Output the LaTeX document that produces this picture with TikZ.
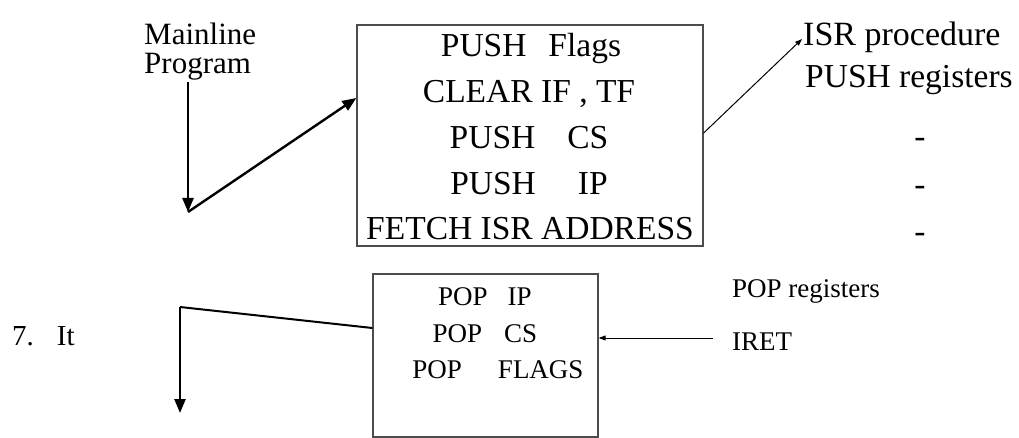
\documentclass[tikz,border=0pt]{standalone}
\usepackage{fontspec}
\setmainfont{Liberation Serif}
\usetikzlibrary{arrows.meta}
\begin{document}
\begin{tikzpicture}[x=1pt,y=-1pt,
  big/.style={font=\fontsize{33.5}{40}\selectfont, inner sep=0pt, anchor=base},
  small/.style={font=\fontsize{27}{32}\selectfont, inner sep=0pt, anchor=base},
  label/.style={font=\fontsize{31}{36}\selectfont, inner sep=0pt, anchor=base west},
  box/.style={draw=black!70, line width=1.3pt, inner sep=0pt},
  flow/.style={line width=2.4pt, -{Triangle[length=14pt,width=11pt]}},
  flowplain/.style={line width=2pt},
  thin/.style={line width=1pt, -{Triangle[length=7pt,width=5pt]}}]
\useasboundingbox (0,0) rectangle (1019,438);

% interrupt entry sequence
\node[box, minimum width=346pt, minimum height=221pt] (entry) at (530,135.5) {};
\node[big] (l1) at (531,57) {PUSH\hspace{22pt}Flags};
\node[big] (l2) at (529,103) {CLEAR IF , TF};
\node[big] (l3) at (529,149) {PUSH\hspace{32pt}CS};
\node[big] (l4) at (529,195) {PUSH\hspace{42pt}IP};
\node[big] (l5) at (530,240) {FETCH ISR ADDRESS};

% mainline program
\node[label] (main1) at (144,45) {Mainline};
\node[label] (main2) at (144,74) {Program};
\coordinate (mtop) at (188,82);
\coordinate (turn) at (188,212);
\draw[flow] (mtop) -- (turn);
\draw[flow] (turn) -- (entry.west |- 0,98);

% ISR procedure column
\node[font=\fontsize{34}{40}\selectfont, inner sep=0pt, anchor=base west] (isr) at (803,46) {ISR procedure};
\node[big, anchor=base west] (pushr) at (805,88) {PUSH registers};
\node[big] (d1) at (920,148) {-};
\node[big] (d2) at (920,196) {-};
\node[big] (d3) at (920,243) {-};
\draw[thin] (entry.east |- 0,133) -- (802,39);

% return sequence
\node[box, minimum width=225pt, minimum height=163pt] (exit) at (485.5,355.5) {};
\node[small] (p1) at (485,305) {POP\hspace{20pt}IP};
\node[small] (p2) at (485,342) {POP\hspace{22pt}CS};
\node[small] (p3) at (498,378) {POP\hspace{36pt}FLAGS};

\node[small, anchor=base west] (popr) at (732,297) {POP registers};
\node[small, anchor=base west] (iret) at (732,350) {IRET};
\draw[thin] (713,338) -- (exit.east |- 0,338);

% back to the mainline program
\node[font=\fontsize{29}{34}\selectfont, inner sep=0pt, anchor=base west] (step7) at (12,345) {7.\hspace{23pt}It};
\coordinate (back) at (180,307);
\coordinate (resume) at (180,413);
\draw[flowplain] (exit.west |- 0,328) -- (back);
\draw[flow] (back) -- (resume);
\end{tikzpicture}
\end{document}
